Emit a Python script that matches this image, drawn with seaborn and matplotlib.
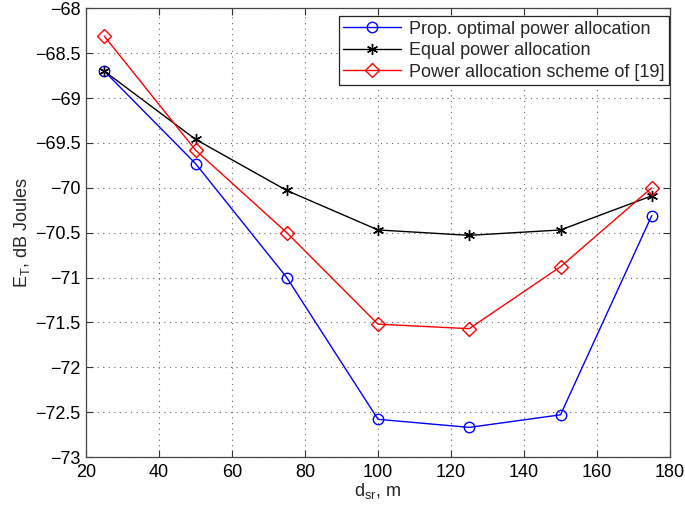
import matplotlib
matplotlib.use("Agg")
import matplotlib.pyplot as plt
import seaborn as sns
import pandas as pd
from matplotlib.ticker import FuncFormatter, MultipleLocator

d_sr = [25, 50, 75, 100, 125, 150, 175]
prop_optimal = [-68.70, -69.73, -71.00, -72.58, -72.67, -72.53, -70.31]
equal_power = [-68.70, -69.46, -70.03, -70.47, -70.53, -70.47, -70.09]
scheme_19 = [-68.31, -69.58, -70.50, -71.52, -71.57, -70.88, -70.00]

labels = ["Prop. optimal power allocation", "Equal power allocation",
          "Power allocation scheme of [19]"]
colors = ["#0000ff", "#000000", "#ff0000"]
markers = ["o", (6, 2, 0), "D"]
msizes = [7.5, 8, 7]

sns.set_style("ticks")
plt.rcParams['font.family'] = ['Liberation Sans', 'DejaVu Sans']
plt.rcParams['mathtext.default'] = 'regular'

fig = plt.figure(figsize=(6.85, 5.12), dpi=100)
ax = fig.add_axes([86/685, (512-457)/512, 584/685, 448.7/512])

series = [prop_optimal, equal_power, scheme_19]
for vals, lab, col, mk, ms in zip(series, labels, colors, markers, msizes):
    df = pd.DataFrame({"x": d_sr, "y": vals})
    sns.lineplot(data=df, x="x", y="y", ax=ax, color=col, marker=mk,
                 markersize=ms, markerfacecolor="none", markeredgecolor=col,
                 markeredgewidth=1.0, linewidth=1.0, label=lab)

ax.set_xlim(20, 180)
ax.set_ylim(-73, -68)
ax.xaxis.set_major_locator(MultipleLocator(20))
ax.yaxis.set_major_locator(MultipleLocator(0.5))
ax.yaxis.set_major_formatter(FuncFormatter(lambda v, p: ("%g" % v).replace("-", "\u2212")))
ax.xaxis.set_major_formatter(FuncFormatter(lambda v, p: "%g" % v))
ax.tick_params(direction="in", top=True, right=True, labelsize=13, length=5,
               width=0.8, colors="#333333", labelcolor="black")
ax.tick_params(axis="x", pad=5)
ax.tick_params(axis="y", pad=4)
for s in ax.spines.values():
    s.set_visible(True)
    s.set_linewidth(0.9)
    s.set_color("#444444")
ax.grid(True, linestyle=(0, (1, 4)), color="#666666", linewidth=0.8)
ax.set_xlabel("d$_{sr}$, m", fontsize=13, labelpad=0)
ax.set_ylabel("E$_T$, dB Joules", fontsize=13, labelpad=2)

leg = ax.legend(loc="upper right", bbox_to_anchor=(669/685, (512-16)/512),
                bbox_transform=fig.transFigure, fontsize=13, frameon=True,
                fancybox=False, edgecolor="#222222", borderaxespad=0.0,
                handlelength=3.2, labelspacing=0.25, borderpad=0.25,
                handletextpad=0.45)
leg.get_frame().set_linewidth(0.9)
leg.get_frame().set_alpha(1)

fig.savefig("out.png", dpi=100)
